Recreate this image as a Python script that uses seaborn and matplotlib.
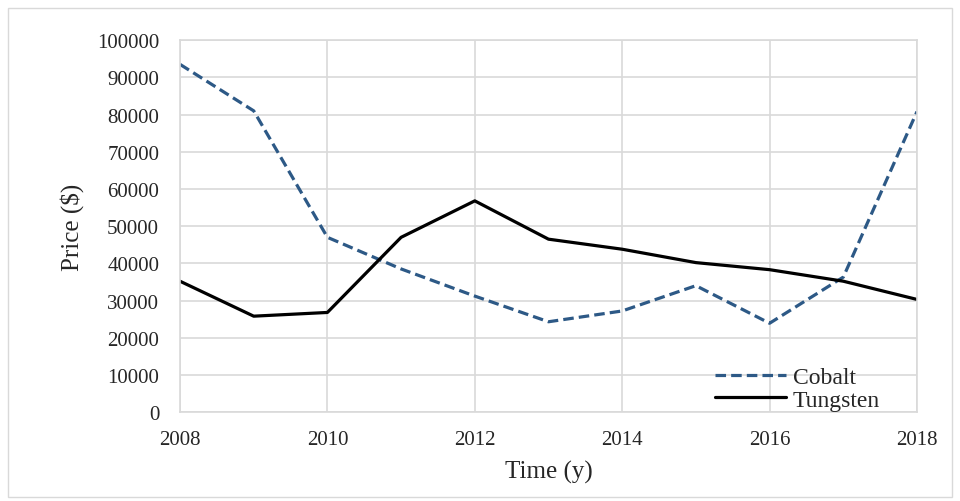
import seaborn as sns
import numpy as np
import matplotlib.pyplot as plt
import pandas as pd
from matplotlib.patches import Rectangle

# data
years = [2008, 2009, 2010, 2011, 2012, 2013, 2014, 2015, 2016, 2017, 2018]
cobalt = [93500, 81000, 47000, 38500, 31200, 24300, 27200, 34000, 23900, 36300, 80800]
tungsten = [35200, 25800, 26800, 47000, 56800, 46500, 43800, 40200, 38300, 35200, 30300]

df = pd.DataFrame({
    "Time (y)": years * 2,
    "Price ($)": cobalt + tungsten,
    "metal": ["Cobalt"] * len(years) + ["Tungsten"] * len(years),
})

sns.set_style("white")
plt.rcParams['font.family'] = ['Liberation Serif', 'DejaVu Serif']

fig = plt.figure(figsize=(9.6, 5.02), dpi=100)
ax = fig.add_axes([0.1875, 0.177, 0.7677, 0.741])

sns.lineplot(data=df, x="Time (y)", y="Price ($)", hue="metal", style="metal",
             palette={"Cobalt": "#2d5986", "Tungsten": "black"},
             dashes={"Cobalt": (3.3, 1.6), "Tungsten": ""},
             linewidth=2.3, ax=ax)

# axes look
ax.set_xlim(2008, 2018)
ax.set_ylim(0, 100000)
ax.set_xticks(range(2008, 2019, 2))
ax.set_yticks(range(0, 100001, 10000))
ax.grid(True, color="#d9d9d9", linewidth=1.2)
for s in ax.spines.values():
    s.set_color("#d9d9d9")
    s.set_linewidth(1.2)
ax.tick_params(axis="y", length=0, labelsize=15, pad=15)
ax.tick_params(axis="x", length=0, labelsize=15, pad=13)
ax.set_xlabel("Time (y)", fontsize=18, labelpad=8)
ax.set_ylabel("Price ($)", fontsize=18, labelpad=9)

# legend without frame, lower right
leg = ax.legend(loc="lower right", bbox_to_anchor=(0.95, 0.004), frameon=False,
                fontsize=17, handlelength=3.0, handletextpad=0.3,
                borderpad=0, borderaxespad=0, labelspacing=0.05)

# outer chart border
fig.patches.append(Rectangle((0.008, 0.008), 0.984, 0.975, transform=fig.transFigure,
                             fill=False, edgecolor="#d9d9d9", linewidth=1))

fig.savefig("out.png", dpi=100)
